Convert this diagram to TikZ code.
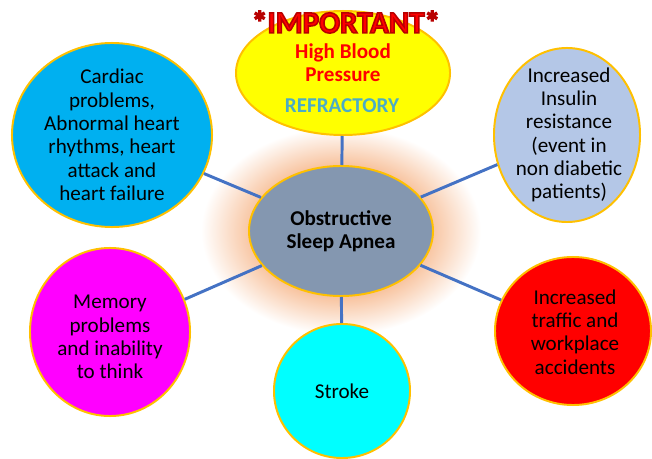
\documentclass[tikz,border=0pt]{standalone}
\usepackage{fontspec}
\setmainfont{Carlito}
\usetikzlibrary{shapes.geometric}

\definecolor{ringc}{HTML}{FFC000}
\definecolor{linkc}{HTML}{4472C4}
\definecolor{osac}{HTML}{8497B0}
\definecolor{glowc}{RGB}{248,196,160}
\definecolor{cardc}{HTML}{00B0F0}
\definecolor{insc}{HTML}{B4C7E7}
\definecolor{trafc}{HTML}{FF0000}
\definecolor{strokc}{HTML}{00FFFF}
\definecolor{memc}{HTML}{FF00FF}
\definecolor{bpc}{HTML}{FFFF00}
\definecolor{impred}{HTML}{FF0000}
\definecolor{refrc}{HTML}{4BACC6}

\pgfdeclareradialshading{osaglow}{\pgfpoint{0bp}{0bp}}{%
  color(0bp)=(glowc); color(16bp)=(glowc); color(25bp)=(white); color(50bp)=(white)}

% banner word: red fill with a dark red outline stroke
\newcommand{\impword}{\textcolor{impred}{\special{pdf:literal 2 Tr 0.72 0 0 RG 1.1 w}*IMPORTANT*\special{pdf:literal 0 Tr}}}

\begin{document}
\begin{tikzpicture}[x=0.025cm, y=-0.025cm,
    bubble/.style = {ellipse, draw=ringc, line width=1.4pt, inner sep=0pt},
    txt/.style    = {align=center, inner sep=0pt, font=\fontsize{15}{16.6}\selectfont},
    bold/.style   = {txt, font=\fontsize{15}{16.6}\selectfont\bfseries},
    link/.style   = {draw=linkc, line width=2.1pt},
  ]
  \useasboundingbox (0,0) rectangle (652,459);

  % glow behind the centre
  \shade[shading=osaglow] (341,231) ellipse (140 and 104);

  % bubbles
  \node[bubble, fill=osac, minimum width=4.6cm, minimum height=3.25cm] (osa) at (341,231) {};
  \node[bubble, fill=bpc, minimum width=5.35cm, minimum height=3.1cm] (bp) at (343,73) {};
  \node[bubble, fill=cardc, minimum width=5.0cm, minimum height=4.6cm] (card) at (112,135) {};
  \node[bubble, fill=insc, minimum width=3.65cm, minimum height=4.35cm] (ins) at (567,135) {};
  \node[bubble, fill=trafc, minimum width=3.9cm, minimum height=3.7cm] (traf) at (573,331) {};
  \node[bubble, fill=strokc, minimum width=3.4cm, minimum height=3.35cm] (strk) at (342,391) {};
  \node[bubble, fill=memc, minimum width=4.0cm, minimum height=4.2cm] (mem) at (110,332) {};

  % spokes
  \foreach \n in {bp, card, ins, traf, strk, mem}
    \draw[link] (osa) -- (\n);

  % texts
  \node[bold] (osa-t) at (osa) {Obstructive\\Sleep Apnea};
  \node[bold, text=impred] (bp-t) at (343,63) {High Blood\\Pressure};
  \node[bold, text=refrc] (refr-t) at (342,106) {REFRACTORY};
  \node[txt] (card-t) at (112,135) {Cardiac\\problems,\\Abnormal heart\\rhythms, heart\\attack and\\heart failure};
  \node[txt] (ins-t) at (569,135) {Increased\\Insulin\\resistance\\(event in\\non diabetic\\patients)};
  \node[txt] (traf-t) at (575,332) {Increased\\traffic and\\workplace\\accidents};
  \node[txt] (strk-t) at (strk) {Stroke};
  \node[txt] (mem-t) at (110,337) {Memory\\problems\\and inability\\to think};

  % banner
  \node[inner sep=0pt, font=\fontsize{22}{24}\selectfont\bfseries] (imp) at (346,22) {\impword};
\end{tikzpicture}
\end{document}
